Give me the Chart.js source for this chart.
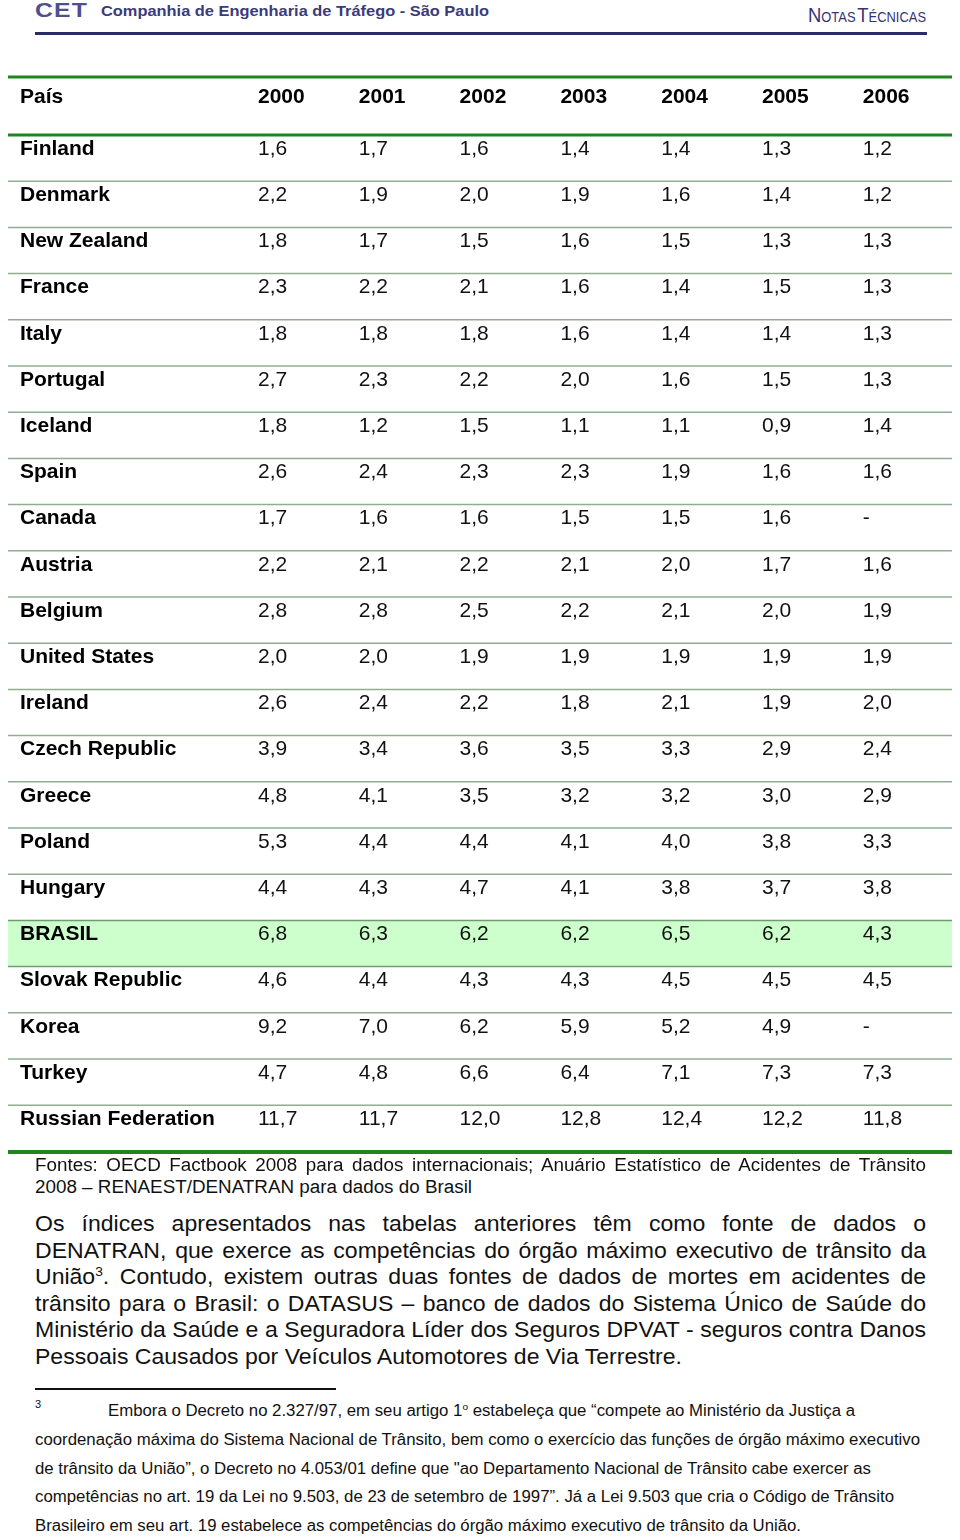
<!DOCTYPE html>
<html><head><meta charset="utf-8">
<script src="https://cdn.jsdelivr.net/npm/chart.js@4.4.0/dist/chart.umd.min.js"></script>
<style>
html,body{margin:0;padding:0;background:#fff;}
body{width:960px;height:1540px;position:relative;overflow:hidden;font-family:"Liberation Sans",Arial,sans-serif;color:#111;}
.ln{position:absolute;white-space:nowrap;line-height:0;transform-origin:0 0;}
sup{font-size:0.6em;vertical-align:baseline;position:relative;top:-0.6em;line-height:0;}
#tbl{position:absolute;left:0;top:0;}
</style></head><body>

<div class="ln" id="cet" style="font-weight:bold;font-size:21px;color:#4f4f8e;letter-spacing:1px;">CET</div>
<div class="ln" id="cia" style="font-weight:bold;font-size:15px;color:#3b3b7a;">Companhia de Engenharia de Tráfego - São Paulo</div>
<div class="ln" id="notas" style="color:#34346f;"><span style="font-size:20px">N</span><span style="font-size:14px">OTAS</span><span style="font-size:20px;margin-left:2px">T</span><span style="font-size:14px">ÉCNICAS</span></div>
<div style="position:absolute;left:35px;top:32px;width:892px;height:3px;background:#2b2b6b;"></div>

<canvas id="tbl" width="960" height="1160"></canvas>

<div class="ln src" id="s1" style="font-size:18px;">Fontes: OECD Factbook 2008 para dados internacionais; Anuário Estatístico de Acidentes de Trânsito</div>
<div class="ln src" id="s2" style="font-size:18px;">2008 – RENAEST/DENATRAN para dados do Brasil</div>

<div class="ln par" id="p1" style="font-size:22px;">Os índices apresentados nas tabelas anteriores têm como fonte de dados o</div>
<div class="ln par" id="p2" style="font-size:22px;">DENATRAN, que exerce as competências do órgão máximo executivo de trânsito da</div>
<div class="ln par" id="p3" style="font-size:22px;">União<sup>3</sup>. Contudo, existem outras duas fontes de dados de mortes em acidentes de</div>
<div class="ln par" id="p4" style="font-size:22px;">trânsito para o Brasil: o DATASUS – banco de dados do Sistema Único de Saúde do</div>
<div class="ln par" id="p5" style="font-size:22px;">Ministério da Saúde e a Seguradora Líder dos Seguros DPVAT - seguros contra Danos</div>
<div class="ln par" id="p6" style="font-size:22px;">Pessoais Causados por Veículos Automotores de Via Terrestre.</div>

<div style="position:absolute;left:35px;top:1388px;width:301px;height:1.5px;background:#111;"></div>
<div class="ln" id="fnm" style="font-size:11px;">3</div>
<div class="ln fn" id="f1" style="font-size:16px;">Embora o Decreto no 2.327/97, em seu artigo 1<sup>o</sup> estabeleça que “compete ao Ministério da Justiça a</div>
<div class="ln fn" id="f2" style="font-size:16px;">coordenação máxima do Sistema Nacional de Trânsito, bem como o exercício das funções de órgão máximo executivo</div>
<div class="ln fn" id="f3" style="font-size:16px;">de trânsito da União”, o Decreto no 4.053/01 define que "ao Departamento Nacional de Trânsito cabe exercer as</div>
<div class="ln fn" id="f4" style="font-size:16px;">competências no art. 19 da Lei no 9.503, de 23 de setembro de 1997”. Já a Lei 9.503 que cria o Código de Trânsito</div>
<div class="ln fn" id="f5" style="font-size:16px;">Brasileiro em seu art. 19 estabelece as competências do órgão máximo executivo de trânsito da União.</div>

<script>
// ---------- data ----------
const headerLabel = 'País';
const years = ['2000','2001','2002','2003','2004','2005','2006'];
const countries = ['Finland','Denmark','New Zealand','France','Italy','Portugal','Iceland','Spain','Canada','Austria','Belgium','United States','Ireland','Czech Republic','Greece','Poland','Hungary','BRASIL','Slovak Republic','Korea','Turkey','Russian Federation'];
const v2000 = [1.6,2.2,1.8,2.3,1.8,2.7,1.8,2.6,1.7,2.2,2.8,2.0,2.6,3.9,4.8,5.3,4.4,6.8,4.6,9.2,4.7,11.7];
const v2001 = [1.7,1.9,1.7,2.2,1.8,2.3,1.2,2.4,1.6,2.1,2.8,2.0,2.4,3.4,4.1,4.4,4.3,6.3,4.4,7.0,4.8,11.7];
const v2002 = [1.6,2.0,1.5,2.1,1.8,2.2,1.5,2.3,1.6,2.2,2.5,1.9,2.2,3.6,3.5,4.4,4.7,6.2,4.3,6.2,6.6,12.0];
const v2003 = [1.4,1.9,1.6,1.6,1.6,2.0,1.1,2.3,1.5,2.1,2.2,1.9,1.8,3.5,3.2,4.1,4.1,6.2,4.3,5.9,6.4,12.8];
const v2004 = [1.4,1.6,1.5,1.4,1.4,1.6,1.1,1.9,1.5,2.0,2.1,1.9,2.1,3.3,3.2,4.0,3.8,6.5,4.5,5.2,7.1,12.4];
const v2005 = [1.3,1.4,1.3,1.5,1.4,1.5,0.9,1.6,1.6,1.7,2.0,1.9,1.9,2.9,3.0,3.8,3.7,6.2,4.5,4.9,7.3,12.2];
const v2006 = [1.2,1.2,1.3,1.3,1.3,1.3,1.4,1.6,null,1.6,1.9,1.9,2.0,2.4,2.9,3.3,3.8,4.3,4.5,null,7.3,11.8];
const highlightRow = 'BRASIL';

// ---------- style ----------
const FONT = '"Liberation Sans", Arial, sans-serif';
const CELL_DX = -40.4, TEXT_DY = -9;
const HEAD_PAD = 25.4;
const LINE_L = 8, LINE_R = 952;
const series = [v2000, v2001, v2002, v2003, v2004, v2005, v2006];
const fmt = v => v === null ? '-' : v.toFixed(1).replace('.', ',');

const tablePlugin = {
  id: 'tableCells',
  beforeDraw(chart) {
    const {ctx, chartArea, scales: {x, y}} = chart;
    const band = (chartArea.bottom - chartArea.top) / countries.length;
    ctx.save();
    const hi = countries.indexOf(highlightRow);
    const yc = y.getPixelForValue(hi);
    ctx.fillStyle = '#ccffcc';
    ctx.fillRect(LINE_L, yc - band / 2, LINE_R - LINE_L, band);
    for (let k = 1; k < countries.length; k++) {
      const yy = y.getPixelForValue(k - 0.5);
      ctx.strokeStyle = (k === hi || k === hi + 1) ? '#6f9c6f' : '#8fae8f';
      ctx.lineWidth = 1.5;
      ctx.beginPath(); ctx.moveTo(LINE_L, yy); ctx.lineTo(LINE_R, yy); ctx.stroke();
    }
    ctx.strokeStyle = '#1f861f';
    ctx.lineWidth = 3;
    [x.top, chartArea.top].forEach(yy => {
      ctx.beginPath(); ctx.moveTo(LINE_L, yy); ctx.lineTo(LINE_R, yy); ctx.stroke();
    });
    ctx.lineWidth = 4;
    ctx.beginPath(); ctx.moveTo(LINE_L, chartArea.bottom + 0.5); ctx.lineTo(LINE_R, chartArea.bottom + 0.5); ctx.stroke();
    ctx.restore();
  },
  afterDatasetsDraw(chart) {
    const {ctx} = chart;
    ctx.save();
    ctx.font = '21px ' + FONT;
    ctx.fillStyle = '#111';
    ctx.textAlign = 'left';
    ctx.textBaseline = 'middle';
    chart.data.datasets.forEach((ds, j) => {
      const meta = chart.getDatasetMeta(j);
      meta.data.forEach((el, i) => {
        ctx.fillText(fmt(ds.values[i]), el.x + CELL_DX, el.y + TEXT_DY);
      });
    });
    ctx.restore();
  },
  afterDraw(chart) {
    const {ctx, scales: {x, y}} = chart;
    ctx.save();
    ctx.font = 'bold 21px ' + FONT;
    ctx.fillStyle = '#000';
    ctx.textAlign = 'left';
    ctx.textBaseline = 'middle';
    ctx.fillText(headerLabel, y.left, x.bottom - HEAD_PAD - 12.6);
    ctx.restore();
  }
};

const datasets = years.map((yr, j) => ({
  label: yr,
  data: countries.map(c => ({x: yr, y: c})),
  values: series[j],
  pointRadius: 0,
  pointHoverRadius: 0,
  showLine: false
}));

function noPad(s) { s.paddingLeft = 0; s.paddingRight = 0; s.paddingTop = 0; s.paddingBottom = 0; }

new Chart(document.getElementById('tbl'), {
  type: 'scatter',
  data: {datasets},
  options: {
    responsive: false,
    animation: false,
    events: [],
    layout: {padding: {left: 20, top: 77, right: 6.4, bottom: 8.6}},
    plugins: {legend: {display: false}, tooltip: {enabled: false}},
    scales: {
      x: {
        type: 'category', labels: years, position: 'top', offset: true,
        grid: {display: false, drawTicks: false}, border: {display: false},
        ticks: {align: 'start', labelOffset: CELL_DX, padding: HEAD_PAD, maxRotation: 0, autoSkip: false,
                color: '#000', font: {family: FONT, size: 21, weight: 'bold'}},
        afterFit(s) { s.height = 58; noPad(s); }
      },
      y: {
        type: 'category', labels: countries, offset: true,
        grid: {display: false, drawTicks: false}, border: {display: false},
        ticks: {crossAlign: 'far', labelOffset: TEXT_DY, autoSkip: false,
                color: '#000', font: {family: FONT, size: 21, weight: 'bold'}},
        afterFit(s) { s.width = 228; noPad(s); }
      }
    }
  },
  plugins: [tablePlugin]
});

// ---------- text layout ----------
function natW(el) { return el.getBoundingClientRect().width; }
function put(id, x, y) { const el = document.getElementById(id); el.style.left = x + 'px'; el.style.top = y + 'px'; return el; }
function fit(id, x, y, w) { const el = put(id, x, y); const s = w / natW(el); el.style.transform = 'scaleX(' + s + ')'; return s; }
function just(id, x, y, w, s) {
  const el = put(id, x, y);
  const n = natW(el);
  const spaces = (el.textContent.match(/ /g) || []).length;
  if (n * s <= w && spaces) {
    el.style.wordSpacing = ((w / s - n) / spaces) + 'px';
    el.style.transform = 'scaleX(' + s + ')';
  } else {
    el.style.transform = 'scaleX(' + (w / n) + ')';
  }
}

fit('cet', 35, 10, 53);
fit('cia', 101, 11, 388);
fit('notas', 808, 15, 118);

const ss = fit('s2', 35, 1187, 437);
just('s1', 35, 1165, 891, ss);

const ps = fit('p6', 35, 1357, 647);
const py = [1224, 1250.5, 1277, 1303.5, 1330];
['p1','p2','p3','p4','p5'].forEach((id, i) => just(id, 35, py[i], 891, ps));

put('fnm', 35, 1404);
fit('f1', 108, 1411, 747);
fit('f2', 35, 1440, 885);
fit('f3', 35, 1469, 836);
fit('f4', 35, 1497, 859);
fit('f5', 35, 1526, 766);
</script>
</body></html>
